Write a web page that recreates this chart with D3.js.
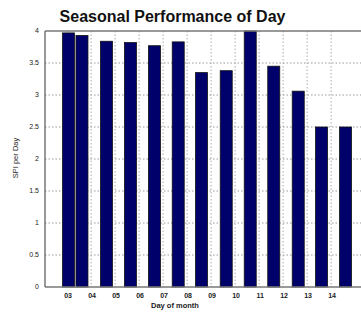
<!DOCTYPE html>
<html>
<head>
<meta charset="utf-8">
<script src="https://cdn.jsdelivr.net/npm/d3@7"></script>
<style>
  body { margin: 0; background: #fff; }
  svg { display: block; font-family: "Liberation Sans", Arial, sans-serif; }
</style>
</head>
<body>
<div id="container"></div>
<script>
// bar positions (day of month, fractional) and values
const dayPos = [3.06, 3.62, 4.64, 5.64, 6.64, 7.63, 8.6, 9.63, 10.63, 11.61, 12.63, 13.6, 14.6]
const spiVals = [3.97, 3.93, 3.84, 3.82, 3.77, 3.83, 3.35, 3.38, 4.0, 3.45, 3.06, 2.5, 2.5]
const xTicks = [3, 4, 5, 6, 7, 8, 9, 10, 11, 12, 13, 14]
const xTickLabels = ["03", "04", "05", "06", "07", "08", "09", "10", "11", "12", "13", "14"]
const yTicks = [0, 0.5, 1, 1.5, 2, 2.5, 3, 3.5, 4]

const W = 361, H = 313
const margin = { left: 45, right: -3, top: 31, bottom: 26 }
const innerW = W - margin.left - margin.right
const innerH = H - margin.top - margin.bottom

const svg = d3.select("#container").append("svg")
  .attr("width", W).attr("height", H)

const g = svg.append("g")
  .attr("transform", `translate(${margin.left}, ${margin.top})`)

const x = d3.scaleLinear().domain([2.08, 15.37]).range([0, innerW])
const y = d3.scaleLinear().domain([0, 4]).range([innerH, 0])

// grid
g.selectAll(".hgrid").data(yTicks.slice(1, -1)).enter().append("line")
  .attr("x1", 0).attr("x2", innerW)
  .attr("y1", d => y(d)).attr("y2", d => y(d))
  .attr("stroke", "#999").attr("stroke-width", 1)
  .attr("stroke-dasharray", "1.5,2")
g.selectAll(".vgrid").data(xTicks).enter().append("line")
  .attr("x1", d => x(d)).attr("x2", d => x(d))
  .attr("y1", 0).attr("y2", innerH)
  .attr("stroke", "#aaa").attr("stroke-width", 1)
  .attr("stroke-dasharray", "1.5,2")

// bars
const barW = x(2.5) - x(2)
g.selectAll(".bar").data(dayPos).enter().append("rect")
  .attr("x", d => x(d) - barW / 2)
  .attr("width", barW)
  .attr("y", (d, i) => y(spiVals[i]))
  .attr("height", (d, i) => innerH - y(spiVals[i]))
  .attr("fill", "#00006a")
  .attr("stroke", "#111").attr("stroke-width", 0.8)

// axes box
g.append("line").attr("x1", 0).attr("x2", innerW).attr("y1", 0).attr("y2", 0)
  .attr("stroke", "#777").attr("stroke-width", 1.5)
g.append("line").attr("x1", 0).attr("x2", innerW).attr("y1", innerH).attr("y2", innerH)
  .attr("stroke", "#777").attr("stroke-width", 1.5)
g.append("line").attr("x1", 0).attr("x2", 0).attr("y1", 0).attr("y2", innerH)
  .attr("stroke", "#777").attr("stroke-width", 1.5)

// tick labels
g.selectAll(".ylab").data(yTicks).enter().append("text")
  .attr("x", -6).attr("y", d => y(d)).attr("dy", "0.35em")
  .attr("text-anchor", "end")
  .attr("font-size", 7).attr("fill", "#222")
  .text(d => d)
g.selectAll(".xlab").data(xTicks).enter().append("text")
  .attr("x", d => x(d) + 1).attr("y", innerH + 11)
  .attr("text-anchor", "middle")
  .attr("font-size", 7).attr("font-weight", "bold").attr("fill", "#222")
  .text((d, i) => xTickLabels[i])

// titles
svg.append("text")
  .attr("x", 172.5).attr("y", 22)
  .attr("text-anchor", "middle")
  .attr("font-size", 16).attr("font-weight", "bold").attr("fill", "#111")
  .text("Seasonal Performance of Day")
svg.append("text")
  .attr("x", 175).attr("y", 308)
  .attr("text-anchor", "middle")
  .attr("font-size", 7.5).attr("font-weight", "bold").attr("fill", "#222")
  .text("Day of month")
svg.append("text")
  .attr("transform", "translate(18, 158) rotate(-90)")
  .attr("text-anchor", "middle")
  .attr("font-size", 7.5).attr("fill", "#222")
  .text("SPI per Day")
</script>
</body>
</html>
